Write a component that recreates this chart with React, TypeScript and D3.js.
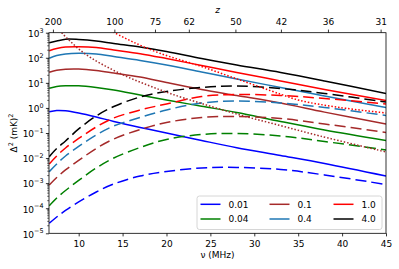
import React from "react";
import * as d3 from "d3";

// frequency grid (MHz) the curves were read at
const nuGrid = [6.65, 7.5, 8.5, 10, 12, 14, 17, 20, 24, 28, 33, 38, 45];

// solid curves, one per legend value
const solid001 = [0.708, 0.791, 0.769, 0.628, 0.436, 0.288, 0.166, 0.1, 0.0504, 0.026, 0.0127, 0.0061, 0.00193];
const solid004 = [6.07, 7.16, 7.64, 7.64, 6.53, 5.19, 3.28, 2.07, 1.17, 0.658, 0.288, 0.132, 0.0504];
const solid01 = [26.4, 31.7, 35.1, 35.7, 31.1, 24.7, 17.1, 10.3, 5.43, 3.13, 1.57, 0.68, 0.229];
const solid04 = [95.3, 123, 142, 151, 142, 112, 78, 51.5, 27.1, 14.3, 6.53, 2.99, 1.04];
const solid1 = [191, 234, 269, 277, 257, 204, 146, 93.5, 49.2, 25.9, 11.9, 5.43, 1.98];
const solid4 = [399, 467, 551, 536, 467, 371, 269, 178, 93.5, 51.5, 25.9, 11.9, 3.77];

// dashed curves
const dash001 = [2.51e-5, 4.48e-5, 8.15e-5, 1.78e-4, 4.45e-4, 9.27e-4, 1.93e-3, 2.92e-3, 4.03e-3, 4.22e-3, 3.51e-3, 2.12e-3, 8.85e-4];
const dash004 = [1.26e-4, 2.56e-4, 5.11e-4, 1.28e-3, 4.03e-3, 0.0101, 0.0265, 0.0552, 0.0873, 0.0957, 0.076, 0.0459, 0.021];
const dash01 = [8.45e-4, 1.68e-3, 3.36e-3, 8.02e-3, 0.0242, 0.0578, 0.138, 0.262, 0.416, 0.456, 0.379, 0.229, 0.105];
const dash04 = [2.87e-3, 5.82e-3, 0.0121, 0.029, 0.0834, 0.191, 0.416, 0.828, 1.57, 1.89, 1.57, 1.04, 0.5];
const dash1 = [5.82e-3, 0.0121, 0.0253, 0.0604, 0.174, 0.397, 0.828, 1.44, 2.86, 3.44, 3.13, 2.38, 1.44];
const dash4 = [0.0114, 0.0242, 0.0481, 0.145, 0.478, 1.14, 2.73, 4.53, 6.53, 7.5, 5.96, 3.77, 1.73];

// dotted curves
const dotRedNu = [13.57, 14.14, 16.19, 19.26, 23.82, 28.37, 32.93, 35.21, 39.76, 45];
const dotRed = [1230, 973, 426, 151, 47, 13, 3.6, 1.98, 1.04, 0.628];
const dotBrownNu = [7.65, 8.1, 9.01, 10.15, 11.52, 13.57, 15.85, 18.12, 20.4, 23.82, 28.37, 32.93, 37.49, 45];
const dotBrown = [1700, 973, 467, 204, 93.5, 37.4, 15.6, 7.5, 3.77, 1.57, 0.524, 0.2, 0.076, 0.0175];

const legendLabels = ["0.01", "0.04", "0.1", "0.4", "1.0", "4.0"];
const seriesColors = ["#0000ff", "#008000", "#a52a2a", "#1f77b4", "#ff0000", "#000000"];
const solidSeries = [solid001, solid004, solid01, solid04, solid1, solid4];
const dashSeries = [dash001, dash004, dash01, dash04, dash1, dash4];

const xTicks = [10, 15, 20, 25, 30, 35, 40, 45];
const zTicks = [200, 100, 75, 62, 50, 42, 36, 31];

const FONT = "DejaVu Sans, sans-serif";

const App = () => {
    const svgRef = React.useRef(null);

    React.useEffect(() => {
        drawChart()
    }, []);

    const drawChart = () => {
        if (!svgRef.current) return
        const svg = d3.select(svgRef.current)
        svg.selectAll("*").remove()

        const left = 49, right = 386, top = 32.7, bottom = 233.3
        const x = d3.scaleLinear().domain([6.62, 45]).range([left, right])
        const y = d3.scaleLog().domain([1e-5, 1e3]).range([bottom, top])

        svg.append("defs").append("clipPath").attr("id", "plotclip")
            .append("rect").attr("x", left).attr("y", top)
            .attr("width", right - left).attr("height", bottom - top)

        const line = d3.line()
            .x(d => x(d[0]))
            .y(d => y(d[1]))
            .curve(d3.curveCatmullRom.alpha(0.5))

        const plot = svg.append("g").attr("clip-path", "url(#plotclip)")

        const drawSeries = (nu, vals, color, dash) => {
            plot.append("path")
                .datum(nu.map((n, i) => [n, vals[i]]))
                .attr("fill", "none")
                .attr("stroke", color)
                .attr("stroke-width", 1.5)
                .attr("stroke-dasharray", dash)
                .attr("d", line)
        }

        seriesColors.forEach((c, i) => {
            drawSeries(nuGrid, solidSeries[i], c, null)
            drawSeries(nuGrid, dashSeries[i], c, "11,5")
        })
        drawSeries(dotRedNu, dotRed, "#ff0000", "1.5,1.9")
        drawSeries(dotBrownNu, dotBrown, "#a52a2a", "1.5,1.9")

        // frame
        svg.append("rect")
            .attr("x", left).attr("y", top)
            .attr("width", right - left).attr("height", bottom - top)
            .attr("fill", "none").attr("stroke", "#000").attr("stroke-width", 0.8)

        // bottom axis
        const gx = svg.append("g")
            .attr("transform", `translate(0,${bottom})`)
            .call(d3.axisBottom(x).tickValues(xTicks).tickSize(3.1).tickPadding(4.5).tickFormat(d3.format("d")))
        gx.select(".domain").remove()

        // top axis in redshift
        const gz = svg.append("g")
            .attr("transform", `translate(0,${top})`)
            .call(d3.axisTop(x)
                .tickValues(zTicks.map(z => 1420.4 / (1 + z)))
                .tickSize(3.1).tickPadding(4.5)
                .tickFormat((d, i) => String(zTicks[i])))
        gz.select(".domain").remove()

        // left axis, log
        const majors = d3.range(-5, 4).map(k => Math.pow(10, k))
        const minors = []
        d3.range(-5, 3).forEach(k => d3.range(2, 10).forEach(m => minors.push(m * Math.pow(10, k))))
        const gy = svg.append("g").attr("transform", `translate(${left},0)`)
        gy.call(d3.axisLeft(y).tickValues(majors).tickSize(3.1).tickFormat(() => ""))
        gy.select(".domain").remove()
        gy.selectAll(".minor").data(minors).join("line")
            .attr("class", "minor")
            .attr("x1", 0).attr("x2", -1.8)
            .attr("y1", d => y(d)).attr("y2", d => y(d))
            .attr("stroke", "#000").attr("stroke-width", 0.6)
        const lbl = gy.selectAll(".ylab").data(majors).join("text")
            .attr("class", "ylab")
            .attr("x", -5.5)
            .attr("y", d => y(d) + 4.3)
            .attr("text-anchor", "end")
            .attr("fill", "#000")
            .attr("font-family", FONT)
            .attr("font-size", 9)
        lbl.append("tspan").text("10")
        lbl.append("tspan")
            .attr("dy", -4.2)
            .attr("font-size", 6.4)
            .text(d => {
                const e = Math.round(Math.log10(d))
                return e < 0 ? "\u2212" + Math.abs(e) : String(e)
            })

        svg.selectAll(".tick line").attr("stroke-width", 0.8)
        svg.selectAll(".tick text").attr("font-family", FONT).attr("font-size", 9).attr("fill", "#000")

        // axis labels
        svg.append("text")
            .attr("x", (left + right) / 2).attr("y", 258)
            .attr("text-anchor", "middle")
            .attr("font-family", FONT).attr("font-size", 9)
            .text("\u03bd (MHz)")
        svg.append("text")
            .attr("x", (left + right) / 2).attr("y", 13.3)
            .attr("text-anchor", "middle")
            .attr("font-family", FONT).attr("font-size", 9)
            .attr("font-style", "italic")
            .text("z")
        const yl = svg.append("text")
            .attr("transform", `translate(17,${(top + bottom) / 2}) rotate(-90)`)
            .attr("text-anchor", "middle")
            .attr("font-family", FONT).attr("font-size", 9)
        yl.append("tspan").text("\u0394")
        yl.append("tspan").attr("dy", -4).attr("font-size", 6.4).text("2")
        yl.append("tspan").attr("dy", 4).text(" (mK)")
        yl.append("tspan").attr("dy", -4).attr("font-size", 6.4).text("2")

        // legend
        const lg = svg.append("g")
        lg.append("rect")
            .attr("x", 197).attr("y", 196).attr("width", 185).attr("height", 33.5)
            .attr("rx", 2.5)
            .attr("fill", "#fff").attr("fill-opacity", 0.8)
            .attr("stroke", "#cccccc").attr("stroke-width", 0.8)
        const colX = [200.5, 269.5, 333.5]
        const rowY = [204.3, 219]
        legendLabels.forEach((t, i) => {
            const cx = colX[Math.floor(i / 2)]
            const cy = rowY[i % 2]
            lg.append("line")
                .attr("x1", cx).attr("x2", cx + 20)
                .attr("y1", cy).attr("y2", cy)
                .attr("stroke", seriesColors[i]).attr("stroke-width", 1.5)
            lg.append("text")
                .attr("x", cx + 28).attr("y", cy + 3.3)
                .attr("font-family", FONT).attr("font-size", 9)
                .text(t)
        })
    }

    return <svg ref={svgRef} width={399} height={269} style={{ position: "absolute", left: 0, top: 0, background: "#fff" }} />
}

export default App
